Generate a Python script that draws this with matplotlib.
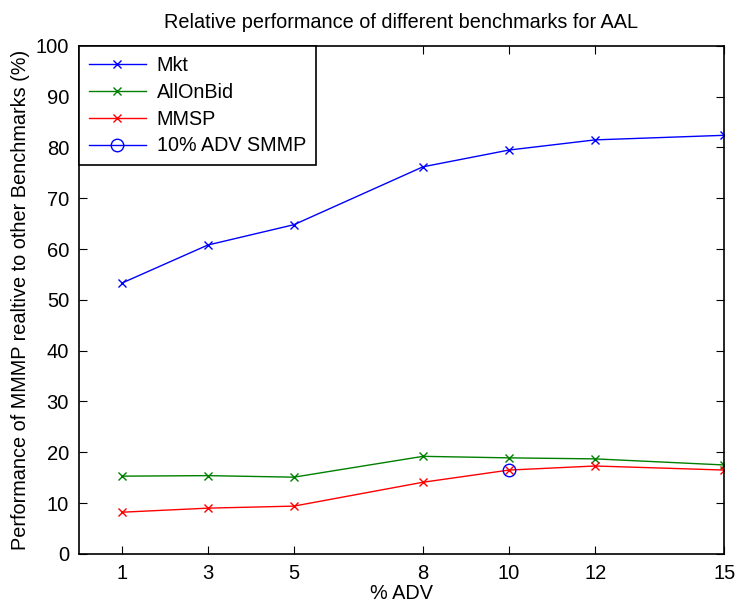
import matplotlib
matplotlib.use("Agg")
import matplotlib.pyplot as plt

plt.rcParams['font.family'] = ['Liberation Sans', 'DejaVu Sans']

adv = [1, 3, 5, 8, 10, 12, 15]
mkt = [53.3, 60.8, 64.8, 76.2, 79.5, 81.5, 82.4]
all_on_bid = [15.3, 15.4, 15.1, 19.2, 18.9, 18.7, 17.5]
mmsp = [8.2, 9.0, 9.4, 14.1, 16.5, 17.3, 16.5]
smmp_x = [10]
smmp_y = [16.5]

fig = plt.figure(figsize=(7.36, 6.04), dpi=100)
ax = fig.add_axes([0.107, 0.083, 0.877, 0.841])

ax.plot(adv, mkt, color='blue', marker='x', lw=1, ms=6, label='Mkt')
ax.plot(adv, all_on_bid, color='green', marker='x', lw=1, ms=6, label='AllOnBid')
ax.plot(adv, mmsp, color='red', marker='x', lw=1, ms=6, label='MMSP')
ax.plot(smmp_x, smmp_y, color='blue', marker='o', mfc='none', lw=1, ms=9,
        label='10% ADV SMMP')

ax.set_xlim(0, 15)
ax.set_ylim(0, 100)
ax.set_xticks(adv)
ax.set_yticks(range(0, 101, 10))
ax.tick_params(direction='in', top=True, right=True, labelsize=14.5, length=6, pad=7)
for s in ax.spines.values():
    s.set_linewidth(1.2)

ax.set_title('Relative performance of different benchmarks for AAL', fontsize=14.3, pad=13)
ax.set_xlabel('% ADV', fontsize=14.3, labelpad=1)
ax.set_ylabel('Performance of MMMP realtive to other Benchmarks (%)', fontsize=14.3, labelpad=4)

leg = ax.legend(loc='upper left', fontsize=14.2, fancybox=False, framealpha=1,
                edgecolor='black', borderaxespad=0, handlelength=2.9,
                handletextpad=0.55, borderpad=0.5, labelspacing=0.4)
leg.get_frame().set_linewidth(1.2)

fig.savefig('out.png', dpi=100)
